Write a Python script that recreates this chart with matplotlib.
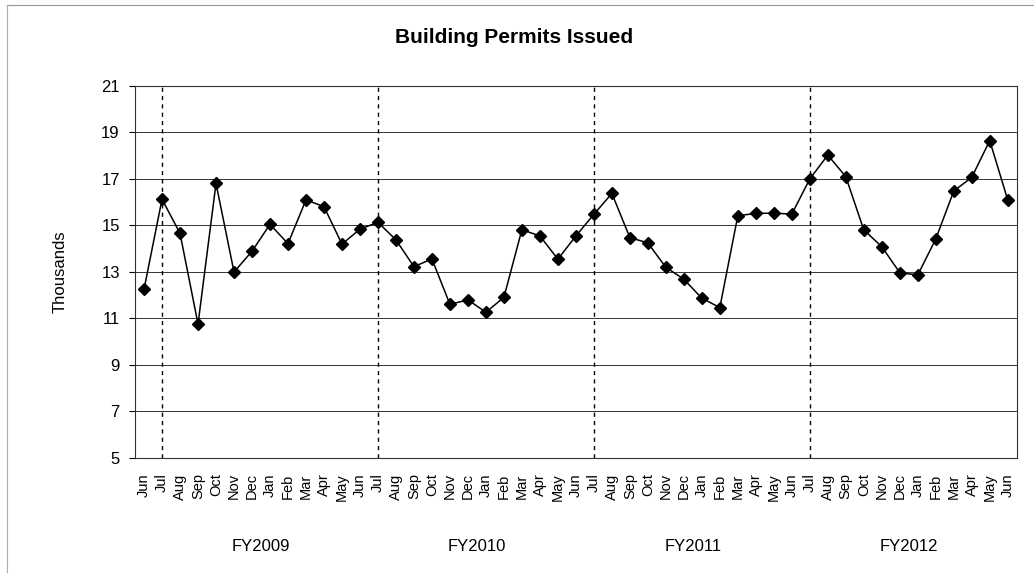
import numpy as np
import matplotlib
matplotlib.use("Agg")
import matplotlib.pyplot as plt
from matplotlib.lines import Line2D

plt.rcParams["font.family"] = ["Liberation Sans", "DejaVu Sans"]

# monthly permits, thousands (Jun 2008 .. Jun 2012)
months = ["Jun"] + ["Jul", "Aug", "Sep", "Oct", "Nov", "Dec",
                    "Jan", "Feb", "Mar", "Apr", "May", "Jun"] * 4
permits = [12.26, 16.13, 14.66, 10.76, 16.81, 13.0, 13.89, 15.05, 14.22, 16.1, 15.81, 14.2, 14.84,
           15.14, 14.38, 13.23, 13.56, 11.61, 11.8, 11.27, 11.91, 14.82, 14.55, 13.55, 14.55,
           15.48, 16.38, 14.48, 14.25, 13.2, 12.69, 11.87, 11.47, 15.42, 15.52, 15.53, 15.49,
           17.0, 18.03, 17.1, 14.81, 14.09, 12.97, 12.87, 14.42, 16.48, 17.07, 18.65, 16.1]
fiscal_years = ["FY2009", "FY2010", "FY2011", "FY2012"]
y_ticks = [5, 7, 9, 11, 13, 15, 17, 19, 21]

x = np.arange(len(months))

fig = plt.figure(figsize=(10.34, 5.74), dpi=100)
ax = fig.add_axes([0.1306, 0.2021, 0.8527, 0.6481])

ax.plot(x, permits, color="black", linewidth=1.1, marker="D", markersize=6.5, zorder=3)

# fiscal year boundaries at each July
jul_idx = [i for i, m in enumerate(months) if m == "Jul"]
for i in jul_idx:
    ax.axvline(i, color="black", linestyle=(0, (3, 3)), linewidth=1.0, zorder=2)

ax.set_xlim(-0.5, len(months) - 0.5)
ax.set_ylim(y_ticks[0], y_ticks[-1])
ax.set_yticks(y_ticks)
ax.yaxis.grid(True, color="#333333", linewidth=0.7)
ax.set_axisbelow(True)

ax.set_xticks(x)
ax.set_xticklabels(months, rotation=90, fontsize=10.5)
ax.tick_params(axis="x", length=0, pad=11)
ax.tick_params(axis="y", length=4, width=0.8, labelsize=12, pad=7)
for s in ax.spines.values():
    s.set_linewidth(0.8)
    s.set_color("#333333")

ax.set_ylabel("Thousands", fontsize=12, labelpad=24)
fig.text(0.497, 0.935, "Building Permits Issued", ha="center", va="center",
         fontsize=15, fontweight="bold")

# fiscal year labels under each Jul..Jun block
for k, fy in enumerate(fiscal_years):
    ax.text(jul_idx[k] + 5.5, -0.238, fy, transform=ax.get_xaxis_transform(),
            ha="center", va="center", fontsize=12)

# faint outer chart border (top and left, as scanned)
fig.add_artist(Line2D([0.007, 1.0], [0.991, 0.991], transform=fig.transFigure,
                      color="#999999", linewidth=0.8))
fig.add_artist(Line2D([0.007, 0.007], [0.004, 0.991], transform=fig.transFigure,
                      color="#aaaaaa", linewidth=0.8))

fig.savefig("out.png", dpi=100)
